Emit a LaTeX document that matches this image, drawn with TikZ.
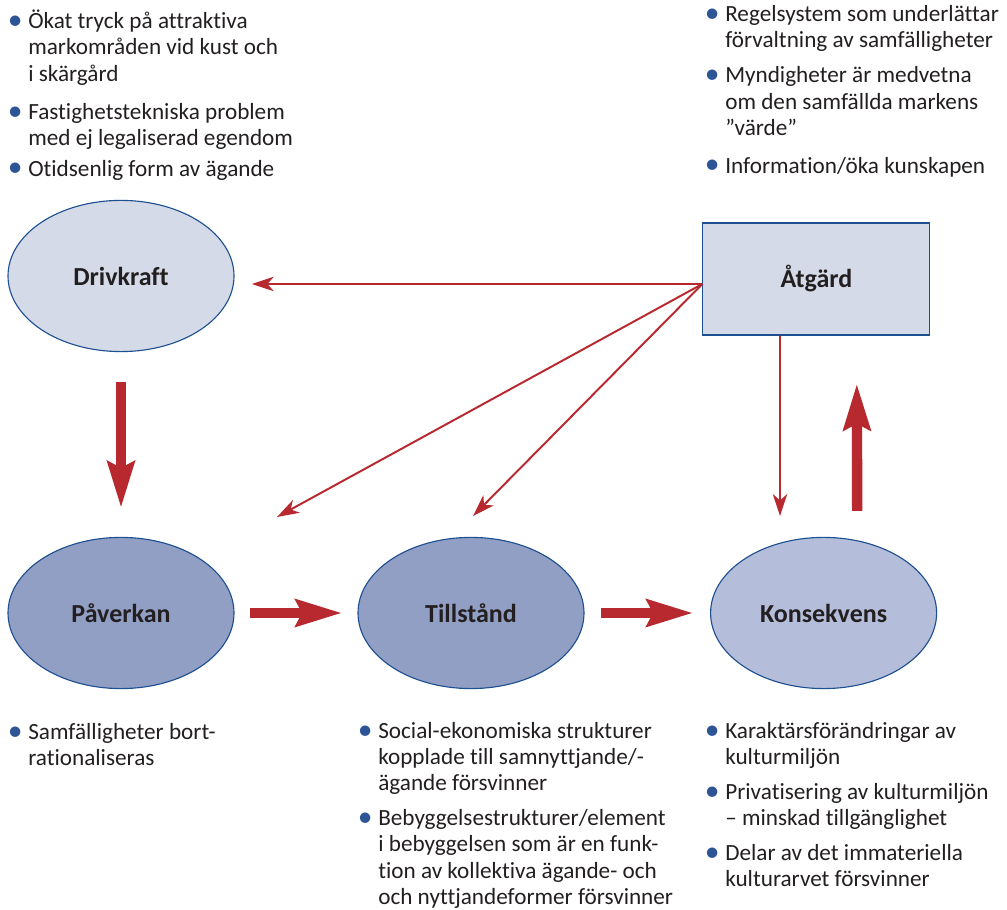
\documentclass[tikz,border=0pt]{standalone}
\usepackage{fontspec}
\setmainfont{Carlito}[Ligatures=NoCommon]
\usetikzlibrary{arrows.meta,positioning,shapes.geometric}

\definecolor{palefill}{HTML}{D5DAE8}
\definecolor{deepfill}{HTML}{919FC4}
\definecolor{softfill}{HTML}{B4BEDB}
\definecolor{rimblue}{HTML}{1D4F91}
\definecolor{dsirred}{HTML}{B8292F}
\definecolor{dotblue}{HTML}{2D5596}
\definecolor{inkgray}{HTML}{231F20}

\newcommand{\dotitem}{\strut\llap{\textcolor{dotblue}{\raisebox{-0.6pt}{\fontsize{21}{21}\selectfont\textbullet}}\hspace{4pt}}}

\tikzset{
  stage/.style={ellipse, draw=rimblue, line width=0.8pt, minimum width=5.65cm,
    minimum height=3.78cm, inner sep=0pt, text=inkgray,
    font=\fontsize{18.5}{22}\selectfont\bfseries},
  actionbox/.style={rectangle, draw=rimblue, line width=0.8pt, fill=palefill,
    minimum width=5.675cm, minimum height=2.8cm, inner sep=0pt, text=inkgray,
    font=\fontsize{18.5}{22}\selectfont\bfseries},
  notes/.style={align=left, inner sep=0pt, anchor=north west, text=inkgray,
    font=\fontsize{16.5}{18.7}\selectfont},
  thinarrow/.style={draw=dsirred, line width=1.4pt,
    -{Stealth[length=5.5mm,width=3.6mm,inset=1.6mm]}},
  bigarrow/.style={draw=dsirred, line width=0.26cm,
    -{Stealth[length=11.5mm,width=6.6mm,inset=1.5mm]}}
}

\begin{document}
\begin{tikzpicture}
  \useasboundingbox (0,0) rectangle (25.175,22.75);

  % the five stages
  \node[stage, fill=palefill] (drivkraft) at (3.025,15.85) {Drivkraft};
  \node[actionbox] (atgard) at (20.41,15.775) {Åtgärd};
  \node[stage, fill=deepfill] (paverkan) at (3.025,7.425) {Påverkan};
  \node[stage, fill=deepfill] (tillstand) at (11.775,7.425) {Tillstånd};
  \node[stage, fill=softfill] (konsekvens) at (20.59,7.425) {Konsekvens};

  % thin arrows out of Åtgärd
  \coordinate (hub) at ([yshift=-1.25mm]atgard.west);
  \coordinate (tipP) at (6.925,9.825);
  \draw[thinarrow, shorten >=4.3mm] (hub) -- (drivkraft.east |- hub);
  \draw[thinarrow] (hub) -- (tipP);
  \draw[thinarrow] (hub) -- ([xshift=0.5mm,yshift=5.2mm]tillstand.north);
  \draw[thinarrow] ([xshift=-9.1mm]atgard.south) -- ([xshift=-10.9mm,yshift=5.2mm]konsekvens.north);

  % thick arrows
  \draw[bigarrow, shorten <=7.5mm, shorten >=7.2mm] (drivkraft) -- (paverkan);
  \draw[bigarrow, shorten <=3.8mm, shorten >=3.8mm] (paverkan) -- (tillstand);
  \draw[bigarrow, shorten <=4mm, shorten >=4.2mm] (tillstand) -- (konsekvens);
  \draw[bigarrow] ([xshift=8.4mm,yshift=6.5mm]konsekvens.north) -- ([xshift=10.1mm,yshift=-12mm]atgard.south);

  % bullet texts
  \node[notes] (drivnotes) at (0.7,22.51) {\dotitem Ökat tryck på attraktiva\\
    markområden vid kust och\\ i skärgård\\[8.5pt]
    \dotitem Fastighetstekniska problem\\ med ej legaliserad egendom\\[3pt]
    \dotitem Otidsenlig form av ägande};
  \node[notes] (atgardnotes) at (18.125,22.685) {\dotitem Regelsystem som underlättar\\
    förvaltning av samfälligheter\\[6.5pt]
    \dotitem Myndigheter är medvetna\\ om den samfällda markens\\ ”värde”\\[8pt]
    \dotitem Information/öka kunskapen};
  \node[notes] (pavnotes) at (0.7,4.735) {\dotitem Samfälligheter bort-\\ rationaliseras};
  \node[notes] (tillnotes) at (9.45,4.76) {\dotitem Social-ekonomiska strukturer\\
    kopplade till samnyttjande/-\\ ägande försvinner\\[6pt]
    \dotitem Bebyggelsestrukturer/element\\ i bebyggelsen som är en funk-\\
    tion av kollektiva ägande- och\\ och nyttjandeformer försvinner};
  \node[notes] (konsnotes) at (18.125,4.76) {\dotitem Karaktärsförändringar av\\
    kulturmiljön\\[6pt]
    \dotitem Privatisering av kulturmiljön\\ -- minskad tillgänglighet\\[6pt]
    \dotitem Delar av det immateriella\\ kulturarvet försvinner};
\end{tikzpicture}
\end{document}
